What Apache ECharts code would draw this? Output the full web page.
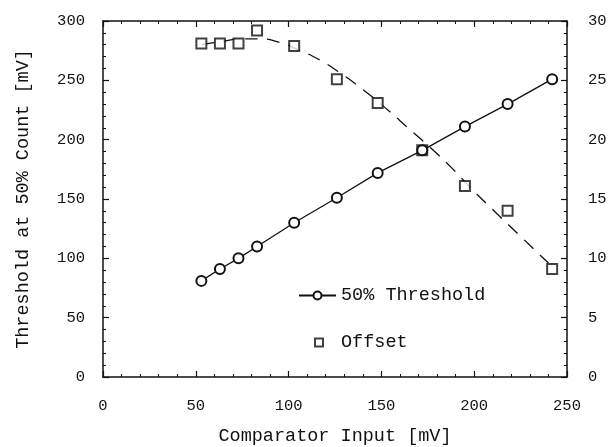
<!DOCTYPE html>
<html>
<head>
<meta charset="utf-8">
<script src="https://cdn.jsdelivr.net/npm/echarts@6/dist/echarts.min.js"></script>
<style>
  html, body { margin: 0; padding: 0; background: #fff; }
  #chart { width: 615px; height: 447px; }
</style>
</head>
<body>
<div id="chart"></div>
<script>
var inputMv = [53, 63, 73, 83, 103, 126, 148, 172, 195, 218, 242];
var thresholdMv = [81, 91, 100, 110, 130, 151, 172, 191, 211, 230, 251];
var offsetVal = [28.1, 28.1, 28.1, 29.2, 27.9, 25.1, 23.1, 19.1, 16.1, 14.0, 9.1];

// dashed fit curve through the offset points
var fitInputMv = [53, 65, 75, 85, 95, 105, 117, 128, 141, 152, 165, 178, 188, 199, 212, 224, 236, 240];
var fitOffsetVal = [28.0, 28.3, 28.5, 28.5, 28.2, 27.6, 26.7, 25.6, 24.1, 22.7, 20.9, 19.1, 17.6, 15.8, 13.8, 12.0, 10.2, 9.6];

var FONT = 'Liberation Mono';
var INK = '#111';

function pairs(xs, ys) {
  return xs.map(function (x, i) { return [x, ys[i]]; });
}

var tickStyle = { show: true, inside: true, length: 6, lineStyle: { color: INK, width: 1.2 } };
var minorStyle = { show: true, splitNumber: 5, length: 3, lineStyle: { color: INK, width: 1 } };
var lineStyle = { show: true, onZero: false, lineStyle: { color: INK, width: 1.5 } };
var labelStyle = { color: INK, fontFamily: FONT, fontSize: 15.5 };

var chart = echarts.init(document.getElementById('chart'));
chart.setOption({
  animation: false,
  backgroundColor: '#fff',
  grid: { left: 103, right: 48, top: 21, bottom: 70, outerBoundsMode: 'none' },

  legend: [
    {
      orient: 'vertical',
      left: 298,
      top: 286,
      padding: 0,
      itemWidth: 37,
      itemHeight: 10,
      data: ['50% Threshold'],
      textStyle: { color: INK, fontFamily: FONT, fontSize: 18.5 }
    },
    {
      orient: 'vertical',
      left: 314,
      top: 333,
      padding: 0,
      itemWidth: 8,
      itemHeight: 8,
      data: ['Offset'],
      textStyle: { color: INK, fontFamily: FONT, fontSize: 18.5, padding: [0, 0, 0, 13] }
    }
  ],

  xAxis: [
    {
      type: 'value',
      min: 0, max: 250, interval: 50,
      name: 'Comparator Input [mV]',
      nameLocation: 'middle',
      nameGap: 50,
      nameTextStyle: { color: INK, fontFamily: FONT, fontSize: 18.5 },
      axisLine: lineStyle,
      axisTick: tickStyle,
      minorTick: minorStyle,
      axisLabel: Object.assign({ margin: 21 }, labelStyle),
      splitLine: { show: false }
    },
    {
      type: 'value',
      position: 'top',
      min: 0, max: 250, interval: 50,
      axisLine: lineStyle,
      axisTick: tickStyle,
      minorTick: minorStyle,
      axisLabel: { show: false },
      splitLine: { show: false }
    }
  ],

  yAxis: [
    {
      type: 'value',
      min: 0, max: 300, interval: 50,
      name: 'Threshold at 50% Count [mV]',
      nameLocation: 'middle',
      nameGap: 70,
      nameTextStyle: { color: INK, fontFamily: FONT, fontSize: 18.5 },
      axisLine: lineStyle,
      axisTick: tickStyle,
      minorTick: minorStyle,
      axisLabel: Object.assign({ margin: 18 }, labelStyle),
      splitLine: { show: false }
    },
    {
      type: 'value',
      position: 'right',
      min: 0, max: 30, interval: 5,
      axisLine: lineStyle,
      axisTick: tickStyle,
      minorTick: minorStyle,
      axisLabel: Object.assign({ margin: 21 }, labelStyle),
      splitLine: { show: false }
    }
  ],

  series: [
    {
      name: '50% Threshold',
      type: 'line',
      xAxisIndex: 0,
      yAxisIndex: 0,
      data: pairs(inputMv, thresholdMv),
      symbol: 'emptyCircle',
      symbolSize: 10,
      lineStyle: { color: INK, width: 1.3 },
      itemStyle: { color: INK, borderColor: INK, borderWidth: 1.4 }
    },
    {
      name: 'Offset',
      type: 'scatter',
      xAxisIndex: 0,
      yAxisIndex: 1,
      data: pairs(inputMv, offsetVal),
      symbol: 'emptyRect',
      symbolSize: 10,
      itemStyle: { color: INK, borderColor: INK, borderWidth: 1.5 }
    },
    {
      name: 'Offset fit',
      type: 'line',
      xAxisIndex: 0,
      yAxisIndex: 1,
      data: pairs(fitInputMv, fitOffsetVal),
      smooth: true,
      showSymbol: false,
      symbol: 'none',
      silent: true,
      z: 1,
      lineStyle: { color: INK, width: 1.3, type: [13, 9] }
    }
  ]
});
</script>
</body>
</html>
